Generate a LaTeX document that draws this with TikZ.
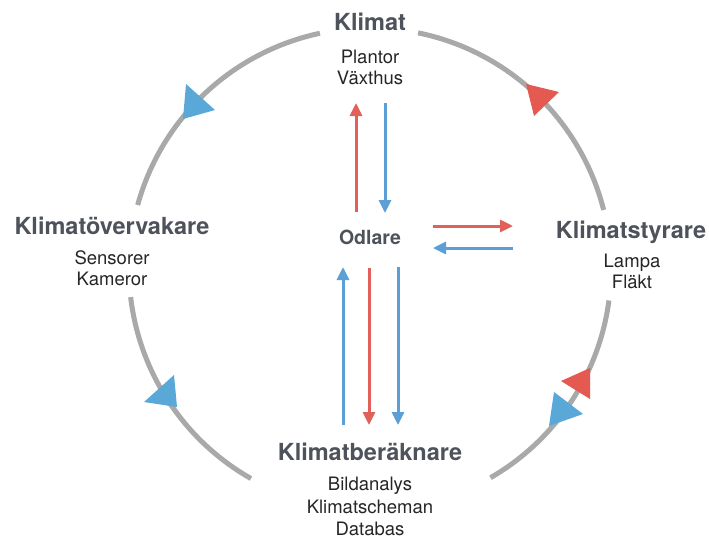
\documentclass[tikz,border=0pt]{standalone}
\usepackage{fontspec}
\setmainfont{TeX Gyre Heros}
\usetikzlibrary{arrows.meta}
\definecolor{ringgray}{HTML}{A7AAA8}
\definecolor{flowblue}{HTML}{5B9FD6}
\definecolor{flowred}{HTML}{E2605A}
\definecolor{markblue}{HTML}{5AA8D8}
\definecolor{markred}{HTML}{E45A51}
\definecolor{titlegray}{HTML}{4D525B}
\definecolor{subtext}{HTML}{262626}
\tikzset{
  ring/.style={draw=ringgray, line width=5pt, line cap=butt},
  title/.style={font=\fontsize{23.5}{26}\selectfont\bfseries, text=titlegray, inner sep=0pt},
  hubtitle/.style={font=\fontsize{19.5}{22}\selectfont\bfseries, text=titlegray, inner sep=0pt},
  items/.style={font=\fontsize{18.5}{21}\selectfont, text=subtext, align=center, inner sep=0pt},
  flow/.style={line width=3pt, -{Triangle[length=13pt,width=12pt]}},
  redflow/.style={flow, draw=flowred},
  blueflow/.style={flow, draw=flowblue},
}
\begin{document}
\begin{tikzpicture}[x=1pt, y=-1pt]
\useasboundingbox (0,0) rectangle (709,539);
\fill[white] (0,0) rectangle (709,539);

% ring of four arcs around the centre
\coordinate (C) at (370,269);
\draw[ring] (C) ++(-102:241) arc[start angle=-102, end angle=-164.6, radius=241];
\draw[ring] (C) ++(-186.7:241) arc[start angle=-186.7, end angle=-240.4, radius=241];
\draw[ring] (C) ++(-300:241) arc[start angle=-300, end angle=-352.5, radius=241];
\draw[ring] (C) ++(-14.2:241) arc[start angle=-14.2, end angle=-78.5, radius=241];

% direction markers on the ring
\fill[markblue] (186,84) -- (215,110) -- (183,119) -- cycle;
\fill[markred] (526,84) -- (559,92) -- (534,116) -- cycle;
\fill[markred] (561,381) -- (590,368) -- (590,399) -- cycle;
\fill[markblue] (554,392) -- (583,414) -- (549,426) -- cycle;
\fill[markblue] (174,375) -- (177,407) -- (144,402) -- cycle;

% labels
\node[title] (klimat) at (370,22) {Klimat};
\node[items, anchor=north] (klimatitems) at (370,50) {Plantor\\Växthus};

\node[title] (overvakare) at (112,226) {Klimatövervakare};
\node[items, anchor=north] (overvakareitems) at (112,250) {Sensorer\\Kameror};

\node[title] (styrare) at (631,232) {Klimatstyrare};
\node[items, anchor=north] (styrareitems) at (632,254) {Lampa\\Fläkt};

\node[title] (berakn) at (370,452) {Klimatberäknare};
\node[items, anchor=north, font=\fontsize{18.5}{22.5}\selectfont] (beraknitems) at (370,477) {Bildanalys\\Klimatscheman\\Databas};

\node[hubtitle] (odlare) at (370,237) {Odlare};

% flow arrow end points
\coordinate (r1s) at (356,212); \coordinate (r1e) at (356,103);
\coordinate (b1s) at (385,103); \coordinate (b1e) at (385,213);
\coordinate (b2s) at (343,425); \coordinate (b2e) at (343,267);
\coordinate (r2s) at (369,268); \coordinate (r2e) at (369,425);
\coordinate (b3s) at (398,267); \coordinate (b3e) at (398,425);
\coordinate (r3s) at (433,226); \coordinate (r3e) at (513,226);
\coordinate (b4s) at (513,248); \coordinate (b4e) at (433,248);

\draw[redflow] (r1s) -- (r1e);
\draw[blueflow] (b1s) -- (b1e);
\draw[blueflow] (b2s) -- (b2e);
\draw[redflow] (r2s) -- (r2e);
\draw[blueflow] (b3s) -- (b3e);
\draw[redflow] (r3s) -- (r3e);
\draw[blueflow] (b4s) -- (b4e);
\end{tikzpicture}
\end{document}
